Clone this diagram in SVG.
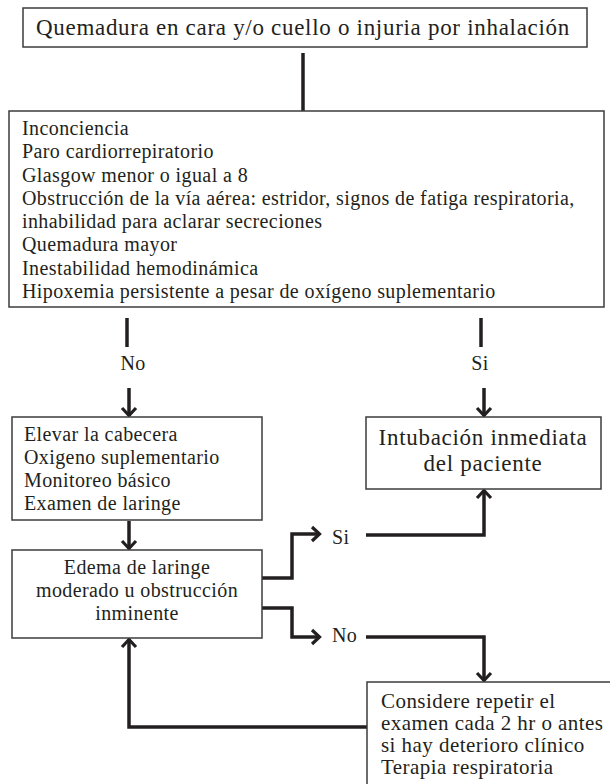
<svg xmlns="http://www.w3.org/2000/svg" width="610" height="784" viewBox="0 0 610 784">
<style>
.box{fill:#fff;stroke:#3c3c3c;stroke-width:1.5}
.t{font-family:"Liberation Serif","DejaVu Serif",serif;fill:#231f20;font-size:20px;letter-spacing:0.4px}
.big{font-size:23px;letter-spacing:0.7px}
.mid{font-size:21px;letter-spacing:0.45px}
.c{text-anchor:middle}
.ln{fill:none;stroke:#231f20;stroke-width:3.5}
.ar{fill:none;stroke:#231f20;stroke-width:3.5;marker-end:url(#ah)}
</style>
<defs>
<marker id="ah" markerUnits="userSpaceOnUse" viewBox="-12 -10 14 20" refX="0" refY="0" markerWidth="14" markerHeight="20" orient="auto">
<path d="M-8,-7 L-0.5,0 L-8,7" fill="none" stroke="#231f20" stroke-width="3.2"/>
</marker>
</defs>
<rect width="610" height="784" fill="#fff"/>
<g id="connectors">
<line class="ln" x1="303" y1="53" x2="303" y2="111"/>
<line class="ln" x1="127" y1="318" x2="127" y2="347"/>
<line class="ln" x1="481" y1="318" x2="481" y2="347"/>
<line class="ar" x1="129" y1="388" x2="129" y2="416"/>
<line class="ar" x1="484" y1="388" x2="484" y2="416"/>
<line class="ar" x1="129" y1="521" x2="129" y2="549"/>
<polyline class="ar" points="262,578 292,578 292,534 320,534"/>
<polyline class="ar" points="262,608 292,608 292,637 320,637"/>
<polyline class="ar" points="366,535 484,535 484,490"/>
<polyline class="ar" points="366,637 484,637 484,681"/>
<polyline class="ar" points="367,727 129,727 129,639"/>
<text class="t c" x="133" y="370">No</text>
<text class="t c" x="480" y="370">Si</text>
<text class="t" x="332" y="544">Si</text>
<text class="t" x="332" y="642">No</text>
</g>
<g id="n1">
<rect class="box" x="23" y="8" width="564" height="39"/>
<text class="t big" x="36" y="35">Quemadura en cara y/o cuello o injuria por inhalación</text>
</g>
<g id="n2">
<rect class="box" x="9" y="111" width="595" height="196"/>
<text class="t" x="22" y="135">Inconciencia</text>
<text class="t" x="22" y="158">Paro cardiorrepiratorio</text>
<text class="t" x="22" y="182">Glasgow menor o igual a 8</text>
<text class="t" x="22" y="205">Obstrucción de la vía aérea: estridor, signos de fatiga respiratoria,</text>
<text class="t" x="22" y="228">inhabilidad para aclarar secreciones</text>
<text class="t" x="22" y="251">Quemadura mayor</text>
<text class="t" x="22" y="275">Inestabilidad hemodinámica</text>
<text class="t" x="22" y="298">Hipoxemia persistente a pesar de oxígeno suplementario</text>
</g>
<g id="n3">
<rect class="box" x="12" y="417" width="250" height="103"/>
<text class="t" x="24" y="441">Elevar la cabecera</text>
<text class="t" x="24" y="464">Oxigeno suplementario</text>
<text class="t" x="24" y="487">Monitoreo básico</text>
<text class="t" x="24" y="510">Examen de laringe</text>
</g>
<g id="n4">
<rect class="box" x="366" y="417" width="235" height="72"/>
<text class="t big c" x="483" y="445">Intubación inmediata</text>
<text class="t big c" x="483" y="471">del paciente</text>
</g>
<g id="n5">
<rect class="box" x="12" y="550" width="250" height="88"/>
<text class="t c" x="137" y="574">Edema de laringe</text>
<text class="t c" x="137" y="597">moderado u obstrucción</text>
<text class="t c" x="137" y="620">inminente</text>
</g>
<g id="n6">
<rect class="box" x="367" y="682" width="260" height="120"/>
<text class="t mid" x="381" y="708">Considere repetir el</text>
<text class="t mid" x="381" y="730">examen cada 2 hr o antes</text>
<text class="t mid" x="381" y="752">si hay deterioro clínico</text>
<text class="t mid" x="381" y="774">Terapia respiratoria</text>
</g>
</svg>
